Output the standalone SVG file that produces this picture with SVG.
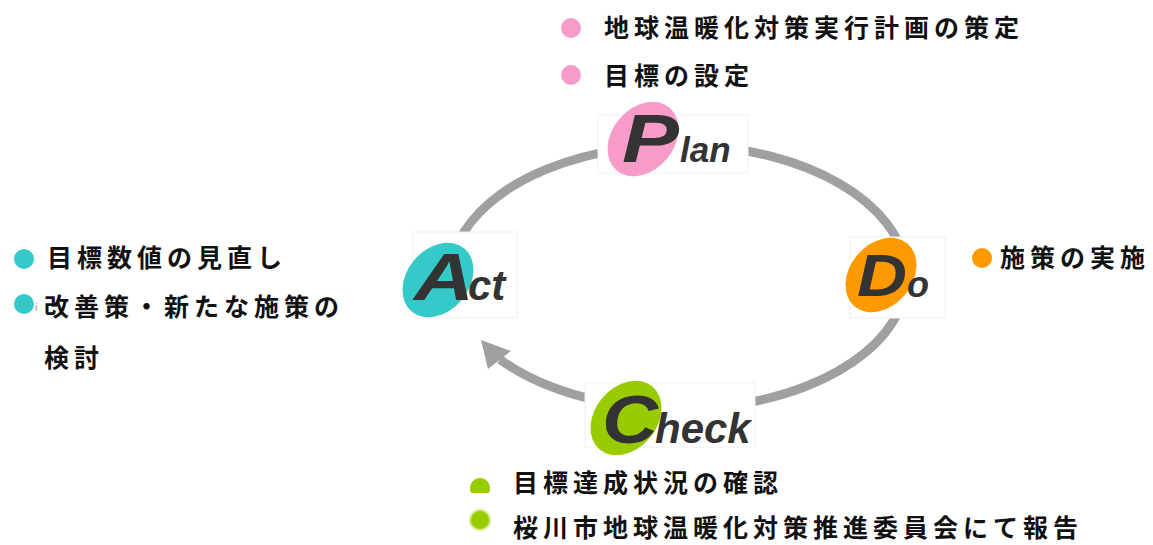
<svg xmlns="http://www.w3.org/2000/svg" width="1153" height="545" viewBox="0 0 1153 545">
  <style>
    .ring { fill: none; stroke: #a0a0a0; stroke-width: 9; }
    .box { fill: #ffffff; stroke: #f0f0f0; stroke-width: 1; }
    .big { font-family: "Liberation Sans", Arial, sans-serif; font-weight: bold; font-style: italic; fill: #333333; }
    .note { font-family: "Noto Sans CJK JP", "Noto Sans", sans-serif; font-weight: bold; font-size: 25px; letter-spacing: 5px; fill: #111111; }
  </style>
  <defs>
    <filter id="soft" x="-50%" y="-50%" width="200%" height="200%">
      <feGaussianBlur stdDeviation="1.2"/>
    </filter>
  </defs>
  <rect width="1153" height="545" fill="#ffffff"/>

  <g id="connectors">
    <path class="ring" d="M 458,243 A 228 132 0 1 1 737,404.5"/>
    <path class="ring" d="M 600,401 A 228 132 0 0 1 500,359.5"/>
    <polygon points="481,340 511,351 488,369" fill="#a0a0a0"/>
  </g>

  <g id="node-plan">
    <rect class="box" x="598" y="115" width="150" height="58"/>
    <ellipse cx="643" cy="139" rx="41" ry="31" transform="rotate(-50 643 139)" fill="#f79bc9"/>
    <text class="big" x="622" y="162" font-size="68" textLength="57" lengthAdjust="spacingAndGlyphs">P</text>
    <text class="big" x="680" y="162" font-size="35">lan</text>
  </g>

  <g id="node-act">
    <rect class="box" x="413" y="232" width="104" height="86"/>
    <ellipse cx="438" cy="280" rx="41" ry="31" transform="rotate(-50 438 280)" fill="#36c9c9"/>
    <text class="big" x="414" y="300" font-size="66" textLength="60" lengthAdjust="spacingAndGlyphs">A</text>
    <text class="big" x="468" y="300" font-size="42">ct</text>
  </g>

  <g id="node-do">
    <rect class="box" x="850" y="237" width="95" height="81"/>
    <ellipse cx="881" cy="275" rx="41" ry="31" transform="rotate(-50 881 275)" fill="#ff9900"/>
    <text class="big" x="857" y="296" font-size="60" textLength="50" lengthAdjust="spacingAndGlyphs">D</text>
    <text class="big" x="907" y="297" font-size="36">o</text>
  </g>

  <g id="node-check">
    <rect class="box" x="585" y="383" width="170" height="64"/>
    <ellipse cx="626" cy="418" rx="41" ry="31" transform="rotate(-50 626 418)" fill="#99cc00"/>
    <text class="big" x="602" y="443" font-size="69" textLength="56" lengthAdjust="spacingAndGlyphs">C</text>
    <text class="big" x="655" y="443" font-size="42">heck</text>
  </g>

  <g id="notes-plan">
    <circle cx="571" cy="28" r="10" fill="#f79bc9"/>
    <text class="note" x="604" y="37">地球温暖化対策実行計画の策定</text>
    <circle cx="571" cy="75" r="10" fill="#f79bc9"/>
    <text class="note" x="604" y="85">目標の設定</text>
  </g>

  <g id="notes-act">
    <circle cx="24" cy="259" r="10" fill="#36c9c9"/>
    <text class="note" x="47" y="267">目標数値の見直し</text>
    <circle cx="24" cy="304" r="10" fill="#36c9c9"/>
    <text x="35" y="311" font-family="Liberation Sans, sans-serif" font-size="11" fill="#999999">i</text>
    <text class="note" x="44" y="316">改善策・新たな施策の</text>
    <text class="note" x="44" y="367">検討</text>
  </g>

  <g id="notes-do">
    <circle cx="982" cy="258" r="10" fill="#ff9900"/>
    <text class="note" x="1000" y="267">施策の実施</text>
  </g>

  <g id="notes-check">
    <path d="M 471.3,493 A 10 10 0 1 1 488.7,493 Z" fill="#99cc00"/>
    <text class="note" x="513" y="492">目標達成状況の確認</text>
    <circle cx="480" cy="520" r="10" fill="#99cc00" filter="url(#soft)"/>
    <text class="note" x="513" y="537">桜川市地球温暖化対策推進委員会にて報告</text>
  </g>
</svg>
